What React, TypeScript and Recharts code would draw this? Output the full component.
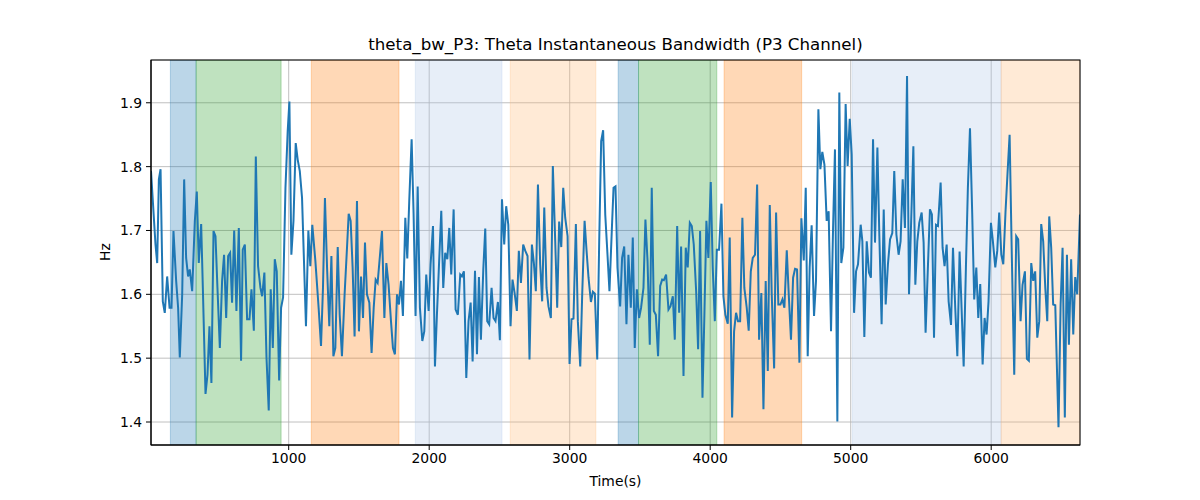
import React from 'react';
import { LineChart, Line, XAxis, YAxis, CartesianGrid, ReferenceArea } from 'recharts';

const times = [
  20, 52, 64, 76, 88, 104, 118, 135, 152, 166, 180, 199, 213, 225, 242, 256, 270, 284, 296, 313,
  332, 346, 360, 377, 389, 408, 422, 436, 450, 465, 479, 493, 510, 526, 540, 555, 569, 583, 597, 612,
  628, 645, 661, 673, 688, 704, 721, 735, 752, 766, 782, 799, 811, 827, 842, 858, 872, 887, 901, 915,
  932, 946, 960, 977, 993, 1005, 1019, 1034, 1050, 1064, 1079, 1095, 1123, 1140, 1154, 1168, 1190, 1213, 1230, 1244,
  1258, 1273, 1289, 1304, 1318, 1332, 1349, 1363, 1379, 1398, 1415, 1427, 1441, 1455, 1469, 1486, 1500, 1515, 1529, 1543,
  1557, 1574, 1590, 1605, 1619, 1633, 1650, 1664, 1681, 1695, 1711, 1728, 1742, 1756, 1771, 1785, 1799, 1813, 1830, 1844,
  1858, 1875, 1889, 1903, 1918, 1934, 1951, 1965, 1979, 1996, 2010, 2027, 2041, 2055, 2069, 2086, 2100, 2114, 2129, 2143,
  2157, 2174, 2188, 2204, 2221, 2233, 2247, 2264, 2280, 2295, 2309, 2326, 2340, 2354, 2368, 2385, 2399, 2413, 2427, 2444,
  2458, 2472, 2489, 2503, 2518, 2534, 2548, 2563, 2579, 2593, 2608, 2624, 2638, 2653, 2669, 2684, 2700, 2714, 2731, 2745,
  2759, 2774, 2790, 2804, 2819, 2835, 2849, 2866, 2880, 2897, 2911, 2925, 2940, 2954, 2968, 2985, 2999, 3013, 3027, 3044,
  3058, 3075, 3089, 3106, 3120, 3134, 3151, 3165, 3179, 3196, 3210, 3224, 3238, 3253, 3269, 3283, 3300, 3312, 3326, 3340,
  3359, 3373, 3388, 3404, 3418, 3435, 3449, 3463, 3478, 3494, 3508, 3525, 3539, 3554, 3570, 3584, 3599, 3613, 3629, 3644,
  3658, 3670, 3686, 3703, 3717, 3734, 3748, 3765, 3779, 3793, 3810, 3826, 3840, 3855, 3869, 3883, 3900, 3914, 3928, 3945,
  3959, 3973, 3987, 4004, 4018, 4033, 4047, 4063, 4080, 4094, 4108, 4125, 4139, 4156, 4170, 4184, 4198, 4213, 4229, 4243,
  4260, 4274, 4289, 4303, 4319, 4334, 4348, 4364, 4379, 4395, 4410, 4424, 4438, 4455, 4469, 4485, 4500, 4514, 4528, 4545,
  4559, 4575, 4590, 4604, 4618, 4635, 4649, 4666, 4680, 4694, 4708, 4722, 4739, 4753, 4770, 4784, 4798, 4813, 4829, 4843,
  4860, 4874, 4888, 4905, 4919, 4933, 4948, 4964, 4978, 4993, 5007, 5024, 5038, 5052, 5071, 5083, 5097, 5114, 5130, 5144,
  5159, 5173, 5190, 5204, 5220, 5235, 5249, 5265, 5280, 5296, 5310, 5325, 5341, 5355, 5370, 5386, 5401, 5415, 5446, 5460,
  5474, 5488, 5505, 5519, 5533, 5564, 5578, 5593, 5607, 5621, 5640, 5654, 5668, 5683, 5697, 5714, 5728, 5744, 5759, 5775,
  5789, 5804, 5820, 5834, 5849, 5865, 5879, 5894, 5908, 5922, 5939, 5953, 5967, 5981, 5998, 6012, 6029, 6043, 6057, 6072,
  6086, 6102, 6117, 6131, 6147, 6164, 6178, 6192, 6209, 6223, 6240, 6254, 6268, 6285, 6299, 6313, 6328, 6342, 6356, 6370,
  6385, 6399, 6413, 6427, 6441, 6456, 6479, 6494, 6508, 6524, 6539, 6553, 6569, 6584, 6598, 6612, 6632,
];

const hz = [
  1.793, 1.678, 1.649, 1.780, 1.796, 1.589, 1.571, 1.628, 1.579, 1.579, 1.699, 1.621, 1.579, 1.501, 1.600, 1.780, 1.657, 1.628, 1.639, 1.605,
  1.715, 1.761, 1.649, 1.710, 1.610, 1.444, 1.474, 1.550, 1.461, 1.699, 1.691, 1.610, 1.516, 1.621, 1.662, 1.563, 1.660, 1.665, 1.587, 1.700,
  1.574, 1.704, 1.496, 1.670, 1.678, 1.561, 1.561, 1.608, 1.543, 1.816, 1.644, 1.610, 1.597, 1.634, 1.501, 1.418, 1.608, 1.516, 1.655, 1.636,
  1.465, 1.579, 1.595, 1.767, 1.856, 1.902, 1.662, 1.715, 1.837, 1.811, 1.793, 1.751, 1.550, 1.700, 1.644, 1.709, 1.652, 1.579, 1.519, 1.610,
  1.751, 1.642, 1.550, 1.660, 1.503, 1.516, 1.674, 1.568, 1.503, 1.600, 1.673, 1.726, 1.715, 1.642, 1.534, 1.746, 1.542, 1.628, 1.563, 1.681,
  1.600, 1.587, 1.508, 1.579, 1.623, 1.618, 1.662, 1.699, 1.563, 1.649, 1.615, 1.558, 1.516, 1.506, 1.600, 1.584, 1.621, 1.566, 1.720, 1.656,
  1.746, 1.843, 1.725, 1.566, 1.769, 1.579, 1.527, 1.542, 1.631, 1.574, 1.647, 1.707, 1.487, 1.568, 1.642, 1.731, 1.610, 1.665, 1.655, 1.704,
  1.631, 1.733, 1.576, 1.568, 1.631, 1.628, 1.636, 1.469, 1.558, 1.587, 1.495, 1.637, 1.506, 1.627, 1.529, 1.639, 1.703, 1.558, 1.553, 1.610,
  1.563, 1.558, 1.588, 1.528, 1.749, 1.678, 1.738, 1.709, 1.550, 1.623, 1.602, 1.574, 1.668, 1.618, 1.678, 1.668, 1.660, 1.498, 1.678, 1.649,
  1.605, 1.772, 1.647, 1.589, 1.736, 1.610, 1.581, 1.563, 1.801, 1.683, 1.579, 1.714, 1.674, 1.767, 1.720, 1.691, 1.491, 1.561, 1.562, 1.710,
  1.558, 1.487, 1.600, 1.715, 1.668, 1.626, 1.588, 1.604, 1.601, 1.498, 1.683, 1.840, 1.857, 1.725, 1.662, 1.605, 1.702, 1.767, 1.769, 1.642,
  1.581, 1.657, 1.675, 1.553, 1.662, 1.579, 1.689, 1.516, 1.608, 1.563, 1.579, 1.610, 1.717, 1.652, 1.521, 1.767, 1.574, 1.568, 1.503, 1.613,
  1.623, 1.622, 1.631, 1.576, 1.581, 1.597, 1.529, 1.707, 1.571, 1.675, 1.472, 1.673, 1.642, 1.712, 1.707, 1.678, 1.605, 1.514, 1.699, 1.438,
  1.571, 1.715, 1.657, 1.776, 1.642, 1.558, 1.670, 1.670, 1.742, 1.597, 1.568, 1.554, 1.689, 1.407, 1.542, 1.571, 1.558, 1.558, 1.720, 1.610,
  1.579, 1.543, 1.636, 1.657, 1.662, 1.772, 1.529, 1.602, 1.420, 1.621, 1.480, 1.740, 1.600, 1.484, 1.728, 1.584, 1.584, 1.592, 1.579, 1.669,
  1.600, 1.529, 1.626, 1.640, 1.639, 1.493, 1.719, 1.653, 1.767, 1.503, 1.642, 1.708, 1.566, 1.621, 1.890, 1.796, 1.823, 1.803, 1.715, 1.730,
  1.542, 1.699, 1.827, 1.401, 1.916, 1.649, 1.673, 1.898, 1.801, 1.875, 1.819, 1.571, 1.636, 1.647, 1.709, 1.683, 1.533, 1.683, 1.634, 1.626,
  1.843, 1.681, 1.830, 1.691, 1.553, 1.733, 1.584, 1.647, 1.686, 1.696, 1.793, 1.694, 1.662, 1.683, 1.780, 1.704, 1.942, 1.600, 1.832, 1.615,
  1.683, 1.712, 1.728, 1.681, 1.540, 1.733, 1.725, 1.532, 1.709, 1.707, 1.775, 1.673, 1.644, 1.678, 1.589, 1.552, 1.673, 1.579, 1.503, 1.667,
  1.579, 1.487, 1.642, 1.767, 1.860, 1.725, 1.592, 1.642, 1.563, 1.616, 1.490, 1.563, 1.537, 1.589, 1.712, 1.683, 1.642, 1.668, 1.728, 1.662,
  1.647, 1.730, 1.793, 1.850, 1.657, 1.474, 1.691, 1.686, 1.558, 1.615, 1.636, 1.499, 1.496, 1.649, 1.621, 1.636, 1.532, 1.558, 1.710, 1.683,
  1.610, 1.558, 1.722, 1.673, 1.584, 1.583, 1.392, 1.584, 1.673, 1.407, 1.662, 1.521, 1.655, 1.537, 1.627, 1.600, 1.725,
];

const spanStarts = [158, 341, 1161, 1901, 2577, 3345, 3490, 4099, 5011, 6071];
const spanEnds = [341, 946, 1785, 2518, 3186, 3490, 4047, 4651, 6071, 6632];
const spanKinds = [0, 1, 2, 3, 4, 0, 1, 2, 3, 4];

const xTicks = [1000, 2000, 3000, 4000, 5000, 6000];
const yTicks = [1.4, 1.5, 1.6, 1.7, 1.8, 1.9];

const KIND_COLORS = ['#1f77b4', '#2ca02c', '#ff7f0e', '#aec7e8', '#ffbb78'];

const data = times.map((t, i) => ({ t, v: hz[i] }));

const FONT = "'DejaVu Sans', sans-serif";

export default function App() {
  return (
    <div style={{ position: 'absolute', left: 0, top: 0, width: 1200, height: 500, background: '#fff', fontFamily: FONT }}>
      <div style={{ position: 'absolute', left: 151, width: 929, top: 35, textAlign: 'center', fontSize: 16.67, lineHeight: '20px', color: '#000' }}>
        theta_bw_P3: Theta Instantaneous Bandwidth (P3 Channel)
      </div>
      <div style={{ position: 'absolute', left: 151, width: 929, top: 472, textAlign: 'center', fontSize: 13.9, lineHeight: '18px', color: '#000' }}>
        Time(s)
      </div>
      <div style={{ position: 'absolute', left: 105 - 20, top: 252 - 9, width: 40, textAlign: 'center', fontSize: 13.9, lineHeight: '18px', transform: 'rotate(-90deg)', color: '#000' }}>
        Hz
      </div>
      <LineChart width={1200} height={500} data={data} margin={{ top: 60, right: 120, bottom: 0, left: 0 }}>
        <CartesianGrid stroke="#b0b0b0" strokeWidth={0.8} />
        {spanStarts.map((s, i) => (
          <ReferenceArea
            key={i}
            x1={s}
            x2={spanEnds[i]}
            fill={KIND_COLORS[spanKinds[i]]}
            fillOpacity={0.3}
            stroke={KIND_COLORS[spanKinds[i]]}
            strokeOpacity={0.3}
            ifOverflow="hidden"
          />
        ))}
        <XAxis
          dataKey="t"
          type="number"
          domain={[20, 6632]}
          ticks={xTicks}
          allowDataOverflow
          height={55}
          tickSize={5}
          tickMargin={3}
          stroke="#000"
          tick={{ fill: '#000', fontSize: 13.9, fontFamily: FONT }}
        />
        <YAxis
          type="number"
          domain={[1.364, 1.967]}
          ticks={yTicks}
          allowDataOverflow
          width={151}
          tickSize={5}
          tickMargin={4}
          stroke="#000"
          tickFormatter={(v: number) => v.toFixed(1)}
          tick={{ fill: '#000', fontSize: 13.9, fontFamily: FONT }}
        />
        <Line dataKey="v" stroke="#1f77b4" strokeWidth={2} dot={false} isAnimationActive={false} />
      </LineChart>
      <svg width={1200} height={500} style={{ position: 'absolute', left: 0, top: 0, pointerEvents: 'none' }}>
        <rect x={151} y={60} width={929} height={385} fill="none" stroke="#000" strokeWidth={1} />
      </svg>
    </div>
  );
}
